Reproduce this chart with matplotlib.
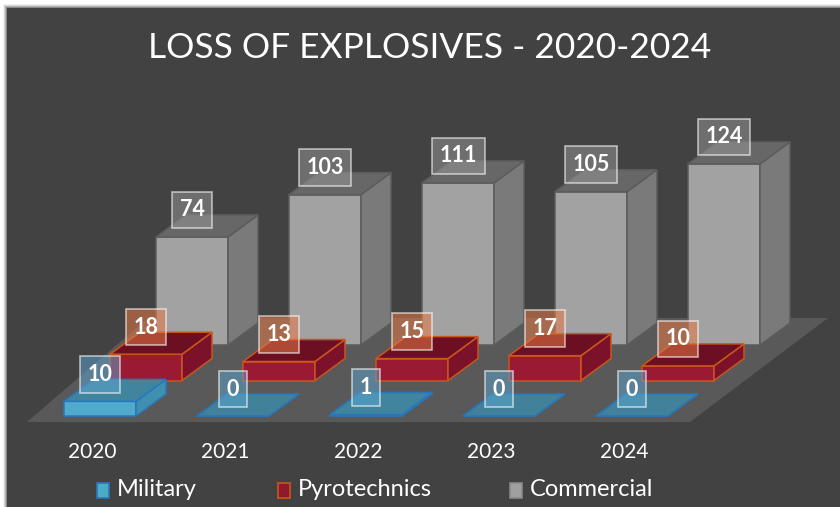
import matplotlib
matplotlib.use("Agg")
import matplotlib.pyplot as plt
from matplotlib.colors import to_rgba
from matplotlib.patches import Polygon, Rectangle

# 数据：每年各类爆炸物的丢失数量
years = ["2020", "2021", "2022", "2023", "2024"]
series = ["Military", "Pyrotechnics", "Commercial"]
military = [10, 0, 1, 0, 0]
pyrotechnics = [18, 13, 15, 17, 10]
commercial = [74, 103, 111, 105, 124]

W, H = 840, 507
BG = "#424242"
FLOOR = "#595959"
FONT = ["Lato", "DejaVu Sans"]

# 斜二测的几何参数（像素）
X0, Y0 = 64, 416          # 最前排第一根柱子的前左下角
STEP = 133                # 年份间距
ROW_DX, ROW_DY = 46, -35.5  # 系列之间的纵深偏移
BAR_W = 72
DEP_DX, DEP_DY = 30, -22  # 柱子自身的厚度
PX_PER_UNIT = 1.46

STYLE = {
    "Military": dict(front="#50aacb", side="#3f90b0", top=to_rgba("#3a8fb0", 0.8), edge="#2a76bd",
                     flat=to_rgba("#3a8fb0", 0.75), label=to_rgba("#5ea6d2", 0.5)),
    "Pyrotechnics": dict(front="#9a1a33", side="#7c1229", top="#6c0f22", edge="#c9561c",
                         flat="#6c0f22", label=to_rgba("#e67a46", 0.55)),
    "Commercial": dict(front="#a2a2a2", side="#7a7a7a", top="#676767", edge="#5c5c5c",
                       flat="#676767", label=to_rgba("#9a9a9a", 0.5)),
}
LEGEND_FACE = {"Military": ("#4bacc6", "#2a76bd"),
               "Pyrotechnics": ("#8e1a2e", "#c9561c"),
               "Commercial": ("#a0a0a0", "#8a8a8a")}


def base_xy(i, row):
    return X0 + STEP * i + ROW_DX * row, Y0 + ROW_DY * row


def draw_box(ax, x, yb, h, st):
    if h <= 0:
        top = [(x, yb), (x + BAR_W, yb), (x + BAR_W + DEP_DX, yb + DEP_DY), (x + DEP_DX, yb + DEP_DY)]
        ax.add_patch(Polygon(top, closed=True, facecolor=st["flat"], edgecolor=st["edge"], lw=1.2, zorder=3))
        return
    yt = yb - h
    front = [(x, yb), (x + BAR_W, yb), (x + BAR_W, yt), (x, yt)]
    side = [(x + BAR_W, yb), (x + BAR_W + DEP_DX, yb + DEP_DY),
            (x + BAR_W + DEP_DX, yt + DEP_DY), (x + BAR_W, yt)]
    top = [(x, yt), (x + BAR_W, yt), (x + BAR_W + DEP_DX, yt + DEP_DY), (x + DEP_DX, yt + DEP_DY)]
    for pts, key in ((front, "front"), (side, "side"), (top, "top")):
        ax.add_patch(Polygon(pts, closed=True, facecolor=st[key], edgecolor=st["edge"],
                             lw=1.1, joinstyle="miter", zorder=3))


fig = plt.figure(figsize=(W / 100, H / 100), dpi=100, facecolor="white")
ax = fig.add_axes([0, 0, 1, 1])
ax.set_xlim(0, W)
ax.set_ylim(H, 0)
ax.axis("off")

# 外框阴影和深色背景
for k, a in enumerate([0.06, 0.10, 0.16, 0.24]):
    ax.add_patch(Rectangle((3 + k, 4 + k), W, H, facecolor=to_rgba("#000000", a), edgecolor="none", zorder=0))
ax.add_patch(Rectangle((7, 8), W, H, facecolor=BG, edgecolor="none", zorder=0.5))

# 底面
floor = [(27, 422), (690, 422), (828, 318), (148, 318)]
ax.add_patch(Polygon(floor, closed=True, facecolor=FLOOR, edgecolor="none", zorder=1))

values = {"Military": military, "Pyrotechnics": pyrotechnics, "Commercial": commercial}

# 由后往前画柱子
for row in (2, 1, 0):
    name = series[row]
    for i, v in enumerate(values[name]):
        x, yb = base_xy(i, row)
        draw_box(ax, x, yb, v * PX_PER_UNIT, STYLE[name])

# 数据标签
for row in (2, 1, 0):
    name = series[row]
    for i, v in enumerate(values[name]):
        x, yb = base_xy(i, row)
        cx = x + BAR_W / 2
        cy = yb - v * PX_PER_UNIT - 27
        ax.text(cx, cy, str(v), ha="center", va="center", color="white", fontsize=15.5,
                fontweight="bold", family=FONT, zorder=6,
                bbox=dict(boxstyle="square,pad=0.36", facecolor=STYLE[name]["label"],
                          edgecolor=to_rgba("white", 0.6), lw=1.2))

# 年份
for i, y in enumerate(years):
    x, _ = base_xy(i, 0)
    ax.text(x + BAR_W / 2 - 8, 452, y, ha="center", va="center", color="white", fontsize=15, family=FONT)

# 图例
legend_x = [97, 278, 510]
for name, lx in zip(series, legend_x):
    face, edge = LEGEND_FACE[name]
    ax.add_patch(Rectangle((lx, 483), 12, 15, facecolor=face, edgecolor=edge, lw=1.2, zorder=5))
    ax.text(lx + 20, 490, name, ha="left", va="center", color="white", fontsize=17, family=FONT)

# 标题
ax.text(430, 48, "LOSS OF EXPLOSIVES - 2020-2024", ha="center", va="center", color="white",
        fontsize=25.5, family=FONT)

fig.savefig("out.png", dpi=100, facecolor="white")
